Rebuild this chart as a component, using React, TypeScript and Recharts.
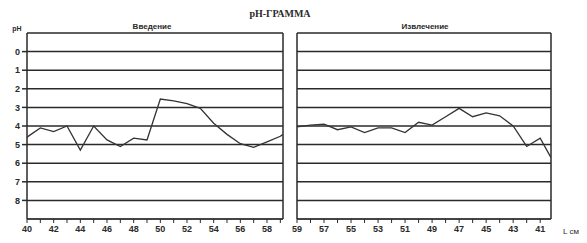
import React from 'react';
import { LineChart, Line, XAxis, YAxis, ReferenceLine } from 'recharts';

// pH values (position along the tract, cm)
const introCm = [40, 41, 42, 43, 44, 45, 46, 47, 48, 49, 50, 51, 52, 53, 54, 55, 56, 57, 58, 59, 59.2];
const introPh = [4.6, 4.1, 4.3, 4.0, 5.3, 4.0, 4.75, 5.1, 4.65, 4.75, 2.55, 2.65, 2.8, 3.05, 3.85, 4.45, 4.95, 5.15, 4.85, 4.55, 4.45];

const extractCm = [59, 58, 57, 56, 55, 54, 53, 52, 51, 50, 49, 48, 47, 46, 45, 44, 43, 42, 41, 40.2];
const extractPh = [4.05, 3.95, 3.9, 4.2, 4.05, 4.35, 4.1, 4.1, 4.35, 3.8, 3.95, 3.5, 3.05, 3.5, 3.3, 3.45, 4.0, 5.1, 4.65, 5.7];

const phTicks = [0, 1, 2, 3, 4, 5, 6, 7, 8];
const gridLevels = [-1, 0, 1, 2, 3, 4, 5, 6, 7, 8, 9];
const introTicks = [40, 41, 42, 43, 44, 45, 46, 47, 48, 49, 50, 51, 52, 53, 54, 55, 56, 57, 58, 59];
const extractTicks = [59, 58, 57, 56, 55, 54, 53, 52, 51, 50, 49, 48, 47, 46, 45, 44, 43, 42, 41];

const INK = '#2a2a2a';
const tickFont = { fontSize: 9, fill: INK, fontFamily: '"Liberation Sans", Arial, sans-serif', fontWeight: 700 };

const introData = introCm.map((cm, i) => ({ cm, ph: introPh[i] }));
const extractData = extractCm.map((cm, i) => ({ cm, ph: extractPh[i] }));

const label = (text: string, left: number, top: number, extra: React.CSSProperties = {}) => (
  <div
    style={{
      position: 'absolute',
      left,
      top,
      transform: 'translate(-50%, -50%)',
      whiteSpace: 'nowrap',
      color: INK,
      fontFamily: '"Liberation Sans", Arial, sans-serif',
      fontSize: 8,
      fontWeight: 700,
      lineHeight: 1,
      ...extra
    }}
  >
    {text}
  </div>
);

export default function App() {
  return (
    <div style={{ position: 'fixed', left: 0, top: 0, width: 587, height: 243, background: '#fff' }}>
      {label('pH-ГРАММА', 280, 14, { fontFamily: '"Liberation Serif", "Times New Roman", serif', fontSize: 10 })}
      {label('Введение', 152, 27)}
      {label('Извлечение', 425, 27)}
      {label('pH', 17, 28, { fontSize: 7 })}
      {label('L см', 571, 232, { fontWeight: 400, fontSize: 8 })}

      <div style={{ position: 'absolute', left: 0, top: 0 }}>
        <LineChart width={290} height={243} data={introData} margin={{ top: 33, right: 7, bottom: 0, left: 0 }}>
          <XAxis
            dataKey="cm"
            type="number"
            domain={[40, 59.2]}
            ticks={introTicks}
            interval={0}
            tickFormatter={(v: number) => (v % 2 === 0 ? String(v) : '')}
            tick={tickFont}
            tickSize={4}
            tickMargin={3}
            height={24}
            stroke={INK}
            allowDataOverflow
          />
          <YAxis
            type="number"
            domain={[-1, 9]}
            reversed
            ticks={phTicks}
            interval={0}
            tick={tickFont}
            tickSize={5}
            tickMargin={2}
            width={27}
            stroke={INK}
            strokeWidth={1.5}
            allowDataOverflow
          />
          {gridLevels.map(v => (
            <ReferenceLine key={v} y={v} stroke={INK} strokeWidth={1.5} />
          ))}
          <ReferenceLine x={59.2} stroke={INK} strokeWidth={1.5} />
          <Line
            type="linear"
            dataKey="ph"
            stroke="#333"
            strokeWidth={1.3}
            dot={false}
            isAnimationActive={false}
          />
        </LineChart>
      </div>

      <div style={{ position: 'absolute', left: 290, top: 0 }}>
        <LineChart width={297} height={243} data={extractData} margin={{ top: 33, right: 36, bottom: 0, left: 7 }}>
          <XAxis
            dataKey="cm"
            type="number"
            domain={[40.2, 59]}
            reversed
            ticks={extractTicks}
            interval={0}
            tickFormatter={(v: number) => (v % 2 === 1 ? String(v) : '')}
            tick={tickFont}
            tickSize={4}
            tickMargin={3}
            height={24}
            stroke={INK}
            allowDataOverflow
          />
          <YAxis hide type="number" domain={[-1, 9]} reversed allowDataOverflow />
          {gridLevels.map(v => (
            <ReferenceLine key={v} y={v} stroke={INK} strokeWidth={1.5} />
          ))}
          <ReferenceLine x={59} stroke={INK} strokeWidth={1.5} />
          <ReferenceLine x={40.2} stroke={INK} strokeWidth={1.5} />
          <Line
            type="linear"
            dataKey="ph"
            stroke="#333"
            strokeWidth={1.3}
            dot={false}
            isAnimationActive={false}
          />
        </LineChart>
      </div>
    </div>
  );
}
